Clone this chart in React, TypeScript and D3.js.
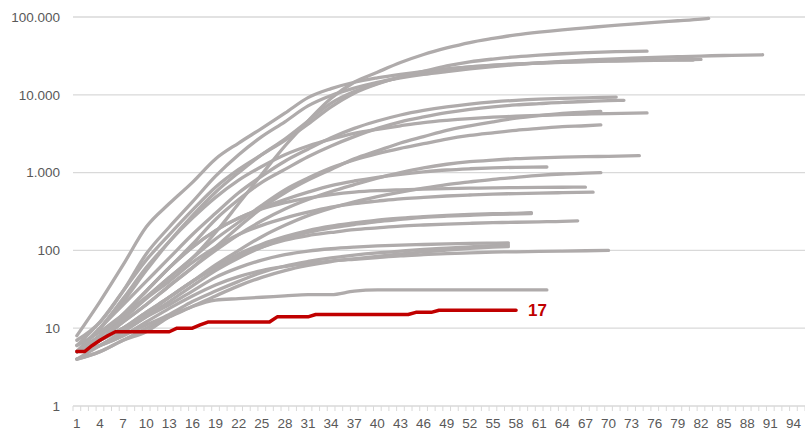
import React from "react";
import * as d3 from "d3";

// ---------- data ----------
// categories on the x axis (days since the 5th death)
const DAYS = d3.range(1, 96);
const X_LABEL_STEP = 3;
const Y_TICKS = [1, 10, 100, 1000, 10000, 100000];
// gray series are sampled every 3 days starting on day 1; the last value sits on its end day
const SAMPLE_STEP = 3;

const s01 = [6, 9, 15, 25, 45, 80, 170, 400, 950, 2200, 4600, 9000, 14500, 19500, 26000, 33000, 40000, 47000, 53000, 59000, 64000, 68500, 72500, 77000, 81000, 85500, 89500, 94000, 96000];
const s02 = [7, 12, 30, 90, 200, 420, 900, 1700, 2900, 4500, 7200, 9800, 12200, 14500, 16500, 18300, 19900, 21500, 23000, 24400, 25700, 26900, 27900, 28800, 29500, 30200, 30900, 31500, 32000, 32400, 32700];
const s03 = [8, 22, 65, 200, 400, 750, 1500, 2400, 3700, 5800, 9200, 12000, 14500, 16500, 18300, 20000, 21500, 22800, 23900, 24800, 25500, 26200, 26700, 27100, 27400, 27700, 27900, 28000];
const s04 = [6, 12, 30, 75, 160, 330, 650, 1100, 1700, 2600, 4200, 7000, 10500, 13800, 16800, 19300, 21300, 22800, 24000, 25000, 25700, 26300, 26800, 27300, 27700, 28000, 28200, 28500];
const s05 = [5, 10, 22, 55, 130, 280, 560, 1000, 1700, 2700, 4600, 7800, 11000, 14000, 17000, 20000, 23500, 26500, 28800, 30800, 32400, 33700, 34800, 35700, 36400];
const s06 = [5, 10, 20, 40, 80, 160, 300, 550, 900, 1400, 2000, 2800, 3700, 4600, 5500, 6300, 7000, 7600, 8100, 8500, 8800, 9000, 9150, 9350];
const s07 = [5, 8, 15, 30, 60, 120, 250, 450, 750, 1100, 1600, 2200, 2900, 3700, 4500, 5200, 5900, 6500, 7000, 7400, 7700, 8000, 8200, 8400, 8500];
const s08 = [5, 7, 12, 20, 35, 60, 110, 200, 350, 550, 800, 1100, 1500, 1900, 2400, 2900, 3500, 4000, 4500, 5000, 5400, 5750, 6000, 6100];
const s09 = [5, 10, 24, 60, 130, 260, 480, 800, 1200, 1700, 2200, 2700, 3200, 3600, 4000, 4400, 4700, 4950, 5150, 5300, 5450, 5550, 5650, 5730, 5850];
const s10 = [5, 8, 14, 25, 45, 80, 140, 230, 380, 600, 850, 1150, 1450, 1750, 2050, 2350, 2700, 3000, 3250, 3500, 3700, 3900, 4000, 4100];
const s11 = [5, 7, 12, 20, 35, 60, 100, 160, 240, 340, 450, 570, 700, 850, 1000, 1150, 1280, 1380, 1450, 1510, 1550, 1580, 1600, 1620, 1650];
const s12 = [5, 8, 15, 30, 60, 110, 180, 260, 350, 450, 560, 680, 780, 870, 950, 1020, 1080, 1120, 1150, 1170, 1180];
const s13 = [5, 7, 10, 16, 25, 40, 65, 100, 150, 210, 280, 350, 420, 490, 560, 630, 700, 760, 820, 870, 920, 960, 985, 1000];
const s14 = [5, 8, 15, 30, 60, 110, 180, 260, 340, 410, 470, 520, 560, 585, 600, 612, 622, 630, 636, 641, 645, 648, 650];
const s15 = [5, 7, 13, 24, 40, 70, 110, 160, 210, 260, 310, 360, 400, 430, 460, 480, 500, 515, 528, 538, 546, 552, 560];
const s16 = [5, 7, 10, 16, 25, 40, 60, 90, 120, 150, 180, 205, 225, 245, 260, 272, 282, 290, 296, 300, 305];
const s17 = [5, 6, 9, 14, 22, 35, 55, 80, 110, 140, 170, 195, 215, 235, 250, 265, 275, 283, 290, 298];
const s18 = [5, 7, 10, 15, 25, 40, 60, 85, 110, 135, 155, 170, 185, 195, 205, 212, 218, 223, 227, 230, 233, 236, 240];
const s19 = [4, 6, 9, 14, 20, 30, 45, 60, 75, 88, 98, 105, 110, 114, 117, 119, 121, 123, 124, 125];
const s20 = [5, 6, 8, 11, 15, 22, 30, 40, 52, 63, 72, 80, 87, 93, 98, 103, 107, 111, 115, 118];
const s21 = [4, 5, 7, 10, 14, 19, 26, 35, 45, 55, 64, 72, 78, 84, 90, 96, 101, 106, 110, 112];
const s22 = [5, 6, 8, 12, 18, 26, 36, 46, 55, 62, 68, 73, 77, 81, 85, 88, 91, 93, 95, 96, 97, 98, 100];
const s23 = [4, 5, 7, 9, 14, 19, 23, 24, 25, 26, 27, 27, 30, 31, 31, 31, 31, 31, 31, 31, 31];

const GRAY_SERIES = [s01, s02, s03, s04, s05, s06, s07, s08, s09, s10, s11, s12, s13, s14, s15, s16, s17, s18, s19, s20, s21, s22, s23];
const GRAY_END_DAYS = [83, 90, 81, 82, 75, 71, 72, 69, 75, 69, 74, 62, 69, 67, 68, 60, 60, 66, 57, 57, 57, 70, 62];

// highlighted series, one value per day from day 1
const highlight = [5, 5, 6, 7, 8, 9, 9, 9, 9, 9, 9, 9, 9, 10, 10, 10, 11, 12, 12, 12, 12, 12, 12, 12, 12, 12, 14, 14, 14, 14, 14, 15, 15, 15, 15, 15, 15, 15, 15, 15, 15, 15, 15, 15, 16, 16, 16, 17, 17, 17, 17, 17, 17, 17, 17, 17, 17, 17];

// ---------- layout ----------
const W = 805;
const H = 432;
const LEFT = 73;
const RIGHT = 805;
const TOP = 17;
const BOTTOM = 406;
const GRAY = "#AFABAB";
const RED = "#C00000";
const GRID = "#D9D9D9";
const TEXT = "#595959";
const FONT = "'Liberation Sans', Arial, sans-serif";

const fmt = d3.formatLocale({ decimal: ",", thousands: ".", grouping: [3], currency: ["", ""] }).format(",");

export default function App() {
  const x = d3.scaleBand<number>().domain(DAYS).range([LEFT, RIGHT]).padding(0);
  const cx = (d: number) => (x(d) as number) + x.bandwidth() / 2;
  const y = d3.scaleLog().domain([1, 100000]).range([BOTTOM, TOP]);

  const grayLine = d3
    .line<[number, number]>()
    .x((p) => cx(p[0]))
    .y((p) => y(p[1]))
    .curve(d3.curveMonotoneX);
  const redLine = d3
    .line<[number, number]>()
    .x((p) => cx(p[0]))
    .y((p) => y(p[1]));

  const grayPts = GRAY_SERIES.map((vals, si) =>
    vals.map((v, i): [number, number] => [i === vals.length - 1 ? GRAY_END_DAYS[si] : 1 + SAMPLE_STEP * i, v])
  );
  const redPts = highlight.map((v, i): [number, number] => [i + 1, v]);
  const last = redPts[redPts.length - 1];

  const tickXs = d3.range(0, DAYS.length + 1).map((k) => LEFT + k * x.bandwidth());

  return (
    <svg width={W} height={H} style={{ position: "absolute", left: 0, top: 0, display: "block", background: "#fff" }} fontFamily={FONT}>
      {Y_TICKS.map((t) => (
        <g key={t}>
          <line x1={LEFT} x2={RIGHT} y1={y(t)} y2={y(t)} stroke={GRID} strokeWidth={1.3} />
          <text x={60} y={y(t) + 4.7} textAnchor="end" fontSize={13.5} fill={TEXT}>
            {fmt(t)}
          </text>
        </g>
      ))}
      {tickXs.map((tx, i) => (
        <line key={i} x1={tx} x2={tx} y1={BOTTOM} y2={BOTTOM + 5} stroke={GRID} strokeWidth={1} />
      ))}
      {DAYS.filter((d) => (d - 1) % X_LABEL_STEP === 0).map((d) => (
        <text key={d} x={cx(d)} y={428} textAnchor="middle" fontSize={13.5} fill={TEXT}>
          {d}
        </text>
      ))}
      {grayPts.map((pts, i) => (
        <path key={i} d={grayLine(pts) || ""} fill="none" stroke={GRAY} strokeWidth={3.3} strokeLinecap="round" strokeLinejoin="round" />
      ))}
      <path d={redLine(redPts) || ""} fill="none" stroke={RED} strokeWidth={3.5} strokeLinecap="round" strokeLinejoin="round" />
      <text x={cx(last[0]) + 12} y={y(last[1]) + 6} fontSize={17} fontWeight="bold" fill={RED}>
        {last[1]}
      </text>
    </svg>
  );
}
